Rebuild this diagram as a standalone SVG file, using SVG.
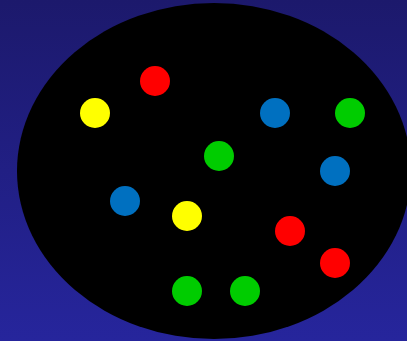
<svg xmlns="http://www.w3.org/2000/svg" width="407" height="341" viewBox="0 0 407 341">
<defs>
<linearGradient id="bg" x1="0" y1="0" x2="0" y2="1">
<stop offset="0" stop-color="#1c196c"/>
<stop offset="1" stop-color="#26259c"/>
</linearGradient>
<style>
.r{fill:#ff0000}.y{fill:#ffff00}.b{fill:#0070c0}.g{fill:#00cc00}
</style>
</defs>
<rect width="407" height="341" fill="url(#bg)"/>
<ellipse id="container" cx="214" cy="171" rx="197" ry="168" fill="#000"/>
<g id="dots">
<circle id="n1" class="r" cx="155" cy="81" r="15"/>
<circle id="n2" class="y" cx="95" cy="113" r="15"/>
<circle id="n3" class="b" cx="275" cy="113" r="15"/>
<circle id="n4" class="g" cx="350" cy="113" r="15"/>
<circle id="n5" class="g" cx="219" cy="156" r="15"/>
<circle id="n6" class="b" cx="335" cy="171" r="15"/>
<circle id="n7" class="b" cx="125" cy="201" r="15"/>
<circle id="n8" class="y" cx="187" cy="216" r="15"/>
<circle id="n9" class="r" cx="290" cy="231" r="15"/>
<circle id="n10" class="r" cx="335" cy="263" r="15"/>
<circle id="n11" class="g" cx="187" cy="291" r="15"/>
<circle id="n12" class="g" cx="245" cy="291" r="15"/>
</g>
<g id="connectors"/>
</svg>
